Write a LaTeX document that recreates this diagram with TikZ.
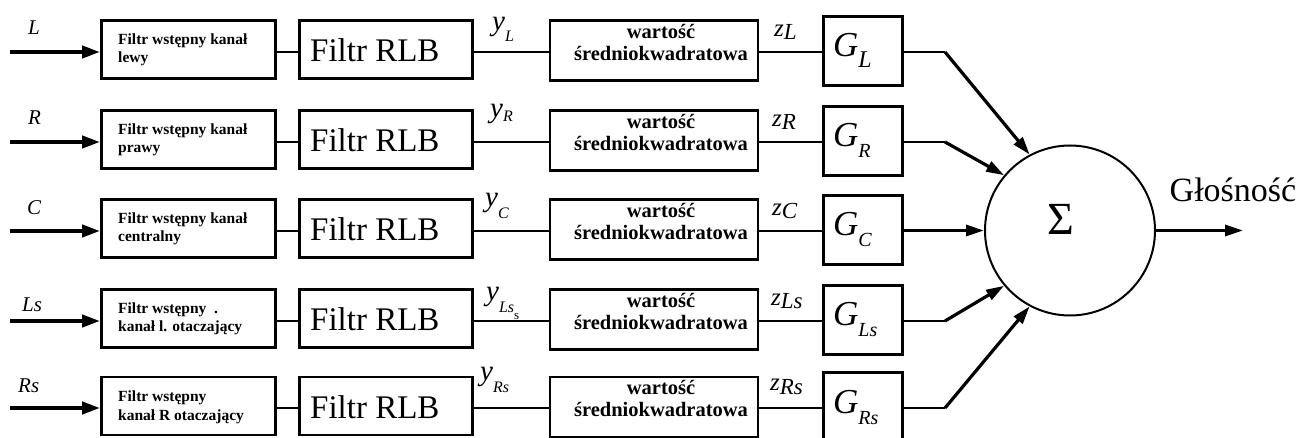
\documentclass[tikz,border=0pt]{standalone}
\usepackage{fontspec}
\setmainfont{Liberation Serif}
\usetikzlibrary{arrows.meta,calc}
\newcommand{\fsz}[2]{\fontsize{#1}{#2}\selectfont}
\newcommand{\ysub}[2]{{\fsz{29}{29}\itshape y}\raisebox{-#1pt}{\fsz{16}{16}\itshape #2}}
\newcommand{\zsub}[2]{{\fsz{25}{25}\itshape z}\raisebox{-3pt}{\fsz{#1}{#1}\itshape #2}}
\newcommand{\gsub}[2]{{\fsz{35}{35}\itshape G}\raisebox{-11pt}{\fsz{#1}{#1}\itshape #2}}
\begin{document}
\begin{tikzpicture}[x=1pt,y=-1pt,
  box/.style={draw, line width=2.8pt, inner sep=0pt},
  prebox/.style={box, minimum width=174pt, minimum height=58pt},
  rlbbox/.style={box, minimum width=173pt, minimum height=58pt},
  msbox/.style={box, minimum width=208pt, minimum height=60pt},
  gbox/.style={box, minimum width=79pt, minimum height=69pt},
  sumnode/.style={draw, circle, line width=2pt, minimum size=170pt, inner sep=0pt},
  conn/.style={line width=2.5pt},
  inarrow/.style={line width=4pt, -{Triangle[length=18pt,width=12pt]}},
  sumarrow/.style={line width=3.2pt, -{Triangle[length=18pt,width=11pt]}},
  pretext/.style={anchor=base west, inner sep=0pt, font=\bfseries\fsz{15.5}{18}},
  mstext/.style={anchor=base, inner sep=0pt, font=\bfseries\fsz{20.5}{22}},
  rlbtext/.style={anchor=base west, inner sep=0pt, font=\fsz{33}{33}},
  lab/.style={anchor=base west, inner sep=0pt},
  inlab/.style={anchor=base west, inner sep=0pt, font=\itshape\fsz{21}{21}},
  bigtext/.style={anchor=base, inner sep=0pt}
]
\useasboundingbox (0,0) rectangle (1307,438);

% row reference coordinates (input arrow starts)
\coordinate (in1) at (10,52);
\coordinate (in2) at (10,142);
\coordinate (in3) at (10,231);
\coordinate (in4) at (10,321);
\coordinate (in5) at (10,408);

% boxes
\node[prebox] (p1) at (188.5,49.5) {};
\node[prebox] (p2) at (188.5,139.5) {};
\node[prebox] (p3) at (188.5,228.5) {};
\node[prebox] (p4) at (188.5,318.5) {};
\node[prebox] (p5) at (188.5,406) {};

\node[rlbbox] (r1) at (386,49.5) {};
\node[rlbbox] (r2) at (386,139.5) {};
\node[rlbbox] (r3) at (386,228.5) {};
\node[rlbbox] (r4) at (386,318.5) {};
\node[rlbbox] (r5) at (386,406) {};

\node[msbox] (m1) at (654,50.5) {};
\node[msbox] (m2) at (654,140.5) {};
\node[msbox] (m3) at (654,229.5) {};
\node[msbox] (m4) at (654,319.5) {};
\node[msbox] (m5) at (654,407) {};

\node[gbox] (g1) at (863,51) {};
\node[gbox] (g2) at (863,141) {};
\node[gbox] (g3) at (863,230) {};
\node[gbox] (g4) at (863,320) {};
\node[gbox] (g5) at (863,407) {};

\node[sumnode] (S) at (1070,230.5) {};

% texts in boxes
\node[pretext] (pt1) at (118,45) {\begin{tabular}[t]{@{}l@{}}Filtr wstępny kanał\\lewy\end{tabular}};
\node[pretext] (pt2) at (118,135) {\begin{tabular}[t]{@{}l@{}}Filtr wstępny kanał\\prawy\end{tabular}};
\node[pretext] (pt3) at (118,224) {\begin{tabular}[t]{@{}l@{}}Filtr wstępny kanał\\centralny\end{tabular}};
\node[pretext] (pt4) at (118,314) {\begin{tabular}[t]{@{}l@{}}Filtr wstępny~~.\\kanał l. otaczający\end{tabular}};
\node[pretext] (pt5) at (118,402) {\begin{tabular}[t]{@{}l@{}}Filtr wstępny\\kanał R otaczający\end{tabular}};

\node[rlbtext] (rt1) at (310,62) {Filtr RLB};
\node[rlbtext] (rt2) at (310,152) {Filtr RLB};
\node[rlbtext] (rt3) at (310,241) {Filtr RLB};
\node[rlbtext] (rt4) at (310,331) {Filtr RLB};
\node[rlbtext] (rt5) at (310,418) {Filtr RLB};

\node[mstext] (mt1) at (661,39) {\begin{tabular}[t]{@{}c@{}}wartość\\średniokwadratowa\end{tabular}};
\node[mstext] (mt2) at (661,129) {\begin{tabular}[t]{@{}c@{}}wartość\\średniokwadratowa\end{tabular}};
\node[mstext] (mt3) at (661,218) {\begin{tabular}[t]{@{}c@{}}wartość\\średniokwadratowa\end{tabular}};
\node[mstext] (mt4) at (661,308) {\begin{tabular}[t]{@{}c@{}}wartość\\średniokwadratowa\end{tabular}};
\node[mstext] (mt5) at (661,395) {\begin{tabular}[t]{@{}c@{}}wartość\\średniokwadratowa\end{tabular}};

\node[lab] (gt1) at (833,57) {\gsub{24}{L}};
\node[lab] (gt2) at (833,147) {\gsub{20}{R}};
\node[lab] (gt3) at (833,236) {\gsub{20}{C}};
\node[lab] (gt4) at (833,326) {\gsub{20}{Ls}};
\node[lab] (gt5) at (833,413) {\gsub{20}{Rs}};

\node[bigtext, font=\fsz{46}{46}] (st) at (1061,235) {Σ};

% input labels
\node[inlab] (il1) at (28,35) {L};
\node[inlab] (il2) at (28,125) {R};
\node[inlab] (il3) at (27,215) {C};
\node[inlab] (il4) at (22,312) {Ls};
\node[inlab] (il5) at (18,392) {Rs};

% y labels
\node[lab] (yl1) at (492,31) {\ysub{11}{L}};
\node[lab] (yl2) at (490,118) {\ysub{4}{R}};
\node[lab] (yl3) at (485,207) {\ysub{12}{C}};
\node[lab] (yl4) at (486,301) {\ysub{12}{Ls}\raisebox{-19pt}{\fsz{13}{13}s}};
\node[lab] (yl5) at (480,381) {\ysub{12}{Rs}};

% z labels
\node[lab] (zl1) at (774,37) {\zsub{23}{L}};
\node[lab] (zl2) at (772,127) {\zsub{23}{R}};
\node[lab] (zl3) at (772,216) {\zsub{23}{C}};
\node[lab] (zl4) at (771,306) {\zsub{23}{Ls}};
\node[lab] (zl5) at (770,391) {\zsub{23}{Rs}};

% output label
\node[bigtext, font=\fsz{34}{34}] (out) at (1233,202) {Głośność};
\coordinate (outend) at (1243,230.5);

% bend points before the sum
\coordinate (b1) at (945,52);
\coordinate (b2) at (945,142);
\coordinate (b3) at (930,230.5);
\coordinate (b4) at (945,321);
\coordinate (b5) at (945,408);

% input arrows
\draw[inarrow] (in1) -- (in1 -| p1.west);
\draw[inarrow] (in2) -- (in2 -| p2.west);
\draw[inarrow] (in3) -- (in3 -| p3.west);
\draw[inarrow] (in4) -- (in4 -| p4.west);
\draw[inarrow] (in5) -- (in5 -| p5.west);

% chains
\foreach \i in {1,...,5}{
  \draw[conn] (p\i.east |- in\i) -- (r\i.west |- in\i);
  \draw[conn] (r\i.east |- in\i) -- (m\i.west |- in\i);
  \draw[conn] (m\i.east |- in\i) -- (g\i.west |- in\i);
}
\draw[conn] (g1.east |- b1) -- (b1);
\draw[conn] (g2.east |- b2) -- (b2);
\draw[conn] (g3.east |- b3) -- (b3);
\draw[conn] (g4.east |- b4) -- (b4);
\draw[conn] (g5.east |- b5) -- (b5);

\draw[sumarrow] (b1) -- (S.118);
\draw[sumarrow] (b2) -- (S.140);
\draw[sumarrow] (b3) -- (S.west);
\draw[sumarrow] (b4) -- (S.220);
\draw[sumarrow] (b5) -- (S.242);
\draw[sumarrow] (S.east) -- (outend);
\end{tikzpicture}
\end{document}
